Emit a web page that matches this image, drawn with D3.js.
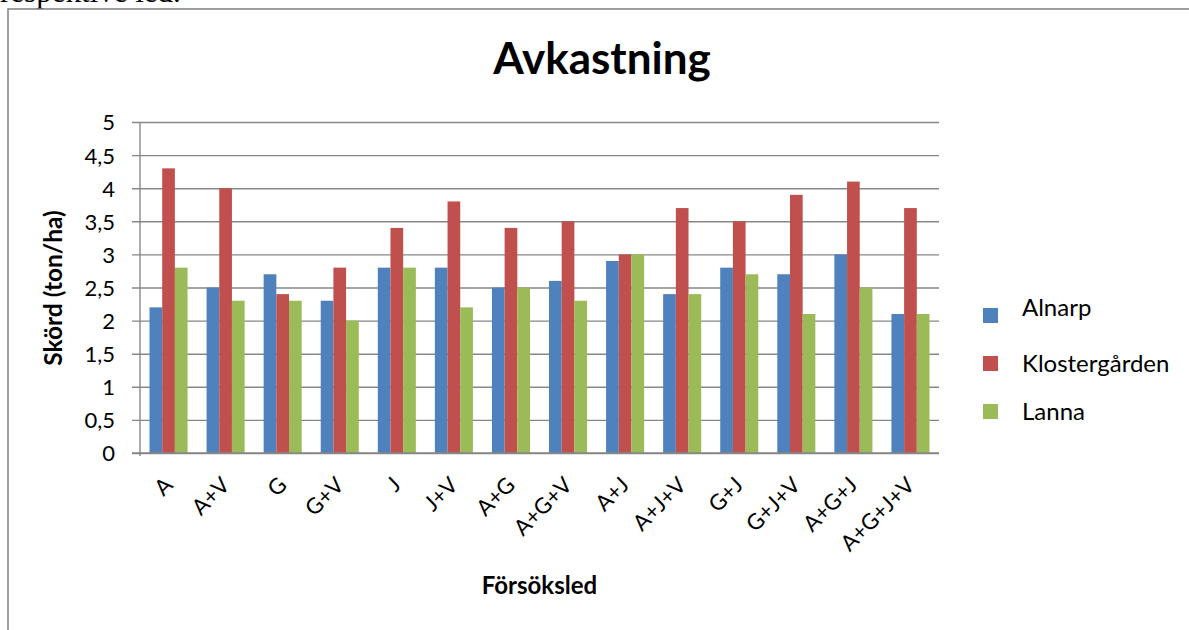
<!DOCTYPE html>
<html>
<head>
<meta charset="utf-8">
<script src="https://cdn.jsdelivr.net/npm/d3@7/dist/d3.min.js"></script>
<style>
  body { margin: 0; background: #fff; }
  svg { display: block; }
  text { font-family: Lato, "Open Sans", sans-serif; fill: #000; }
</style>
</head>
<body>
<svg id="chart" width="1189" height="630"></svg>
<script>
// Yield per trial treatment (ton/ha) at three sites
const categories = ["A", "A+V", "G", "G+V", "J", "J+V", "A+G", "A+G+V", "A+J", "A+J+V", "G+J", "G+J+V", "A+G+J", "A+G+J+V"];
const alnarp        = [2.2, 2.5, 2.7, 2.3, 2.8, 2.8, 2.5, 2.6, 2.9, 2.4, 2.8, 2.7, 3.0, 2.1];
const klostergarden = [4.3, 4.0, 2.4, 2.8, 3.4, 3.8, 3.4, 3.5, 3.0, 3.7, 3.5, 3.9, 4.1, 3.7];
const lanna         = [2.8, 2.3, 2.3, 2.0, 2.8, 2.2, 2.5, 2.3, 3.0, 2.4, 2.7, 2.1, 2.5, 2.1];
const seriesNames   = ["Alnarp", "Klostergården", "Lanna"];
const yTicks        = [0, 0.5, 1, 1.5, 2, 2.5, 3, 3.5, 4, 4.5, 5];

const seriesValues = [alnarp, klostergarden, lanna];
const seriesColors = ["#4F81BD", "#C0504D", "#9BBB59"];

const sv = d3.formatLocale({ decimal: ",", thousands: "\u00a0", grouping: [3], currency: ["", " kr"] });
const fmt = sv.format("~g");

const svg = d3.select("#chart");

// plot area
const plotLeft = 140, plotRight = 939, plotTop = 122, plotBottom = 453;

// preceding line of document text, mostly above the frame
svg.append("text")
  .attr("x", 0).attr("y", 1.5)
  .style("font-family", "'Liberation Serif', serif")
  .style("font-size", "31px")
  .text("respektive led.");

// chart frame
svg.append("rect")
  .attr("x", 8).attr("y", 9)
  .attr("width", 1300).attr("height", 700)
  .attr("fill", "#fff")
  .attr("stroke", "#878787").attr("stroke-width", 1.6);

const x0 = d3.scaleBand().domain(categories).range([plotLeft, plotRight]).padding(0);
// Excel-style gap width of 150 %: three bars plus one and a half bar widths of gap
const barW = x0.bandwidth() / 4.5;
const x1 = d3.scaleBand().domain(seriesNames).range([0, barW * 3]).padding(0);
const groupOffset = (x0.bandwidth() - barW * 3) / 2;

const y = d3.scaleLinear().domain([0, 5]).range([plotBottom, plotTop]);

// gridlines + y tick marks
const yAxis = d3.axisLeft(y).tickValues(yTicks).tickFormat(fmt).tickSize(-(plotRight - plotLeft)).tickSizeOuter(0).tickPadding(0);
const gy = svg.append("g").attr("transform", `translate(${plotLeft},0)`).call(yAxis);
gy.select(".domain").remove();
gy.selectAll(".tick line")
  .attr("x1", -8).attr("x2", plotRight - plotLeft)
  .attr("stroke", "#878787").attr("stroke-width", 1.4);
gy.selectAll(".tick text")
  .attr("x", -25)
  .attr("dy", "0.36em")
  .style("font-family", "Lato, sans-serif")
  .style("font-size", "22px")
  .attr("fill", "#000");

// bars
const groups = svg.append("g").selectAll("g")
  .data(categories)
  .join("g")
  .attr("transform", d => `translate(${x0(d) + groupOffset},0)`);

groups.selectAll("rect")
  .data((c, i) => seriesNames.map((s, k) => ({ s, k, v: seriesValues[k][i] })))
  .join("rect")
  .attr("x", d => x1(d.s))
  .attr("y", d => y(d.v))
  .attr("width", x1.bandwidth())
  .attr("height", d => y(0) - y(d.v))
  .attr("fill", d => seriesColors[d.k]);

// axis lines
svg.append("line")
  .attr("x1", plotLeft).attr("x2", plotLeft).attr("y1", plotTop).attr("y2", plotBottom + 3)
  .attr("stroke", "#878787").attr("stroke-width", 1.4);
svg.append("line")
  .attr("x1", plotLeft - 8).attr("x2", plotRight).attr("y1", plotBottom).attr("y2", plotBottom)
  .attr("stroke", "#878787").attr("stroke-width", 1.4);

// category labels, rotated 45°
const xAxis = d3.axisBottom(x0).tickSize(0).tickPadding(0);
const gx = svg.append("g").attr("transform", `translate(0,${plotBottom})`).call(xAxis);
gx.select(".domain").remove();
gx.selectAll(".tick text")
  .attr("text-anchor", "end")
  .attr("y", 0)
  .attr("dy", "0.35em")
  .attr("transform", "translate(0,28) rotate(-45)")
  .style("font-family", "Lato, sans-serif")
  .style("font-size", "22px")
  .attr("fill", "#000");

// title
svg.append("text")
  .attr("x", 602).attr("y", 74)
  .attr("text-anchor", "middle")
  .style("font-weight", "bold")
  .style("font-size", "44px")
  .text("Avkastning");

// axis titles
svg.append("text")
  .attr("x", (plotLeft + plotRight) / 2).attr("y", 594)
  .attr("text-anchor", "middle")
  .style("font-weight", "bold")
  .style("font-size", "24px")
  .text("Försöksled");

svg.append("text")
  .attr("transform", "translate(62,288) rotate(-90)")
  .attr("text-anchor", "middle")
  .style("font-weight", "bold")
  .style("font-size", "24.5px")
  .text("Skörd (ton/ha)");

// legend
const legendTextY = [316, 372, 420];
const legend = svg.append("g");
seriesNames.forEach((name, i) => {
  legend.append("rect")
    .attr("x", 983).attr("y", 308 + i * 48)
    .attr("width", 15).attr("height", 15)
    .attr("fill", seriesColors[i]);
  legend.append("text")
    .attr("x", 1022).attr("y", legendTextY[i])
    .style("font-size", "24px")
    .text(name);
});
</script>
</body>
</html>
